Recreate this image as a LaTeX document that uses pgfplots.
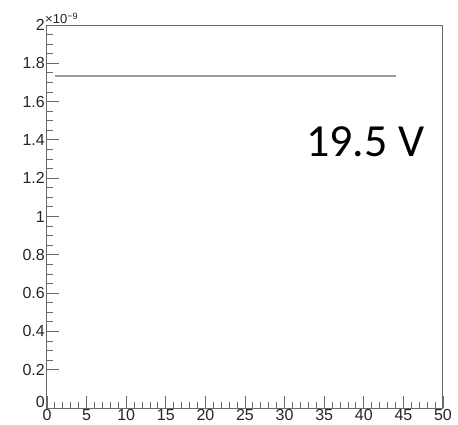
\documentclass[border=0pt]{standalone}
\usepackage{pgfplots}
\pgfplotsset{compat=1.18}
\usepackage{fontspec}
\setmainfont{Liberation Sans}
\newfontfamily\calfont{Carlito}
\definecolor{axgray}{RGB}{105,105,105}
\definecolor{linegray}{RGB}{155,155,155}
\begin{document}
\begin{tikzpicture}
\path[use as bounding box] (-47pt,-16pt) rectangle (411pt,408pt);
\begin{axis}[
  at={(0,0)}, anchor=south west,
  scale only axis, width=396pt, height=383pt,
  xmin=0, xmax=50, ymin=0, ymax=2e-9,
  xtick={0,5,...,50}, ytick={0.2e-9,0.4e-9,...,2.01e-9},
  extra y ticks={0},
  extra y tick style={yticklabel style={yshift=6pt}},
  minor x tick num=4, minor y tick num=3,
  tick align=inside, tick pos=left,
  major tick length=12pt, minor tick length=6pt,
  axis line style={axgray, line width=1pt},
  every tick/.style={axgray, line width=0.9pt},
  scaled y ticks=base 10:9,
  ytick scale label code/.code={×10\textsuperscript{−9}},
  every y tick scale label/.style={at={(rel axis cs:0,1)}, anchor=south west, inner sep=0pt, xshift=-2pt, yshift=1pt, font=\fontsize{13}{13}\selectfont, text=black!85},
  ticklabel style={font=\fontsize{16}{16}\selectfont, text=black!85},
  yticklabel style={inner sep=2pt},
  xticklabel style={inner sep=1pt},
  /pgf/number format/assume math mode=true,
  yticklabel={\pgfmathprintnumber[fixed,precision=1]{\tick}},
  clip=false,
]
\addplot[linegray, line width=1.6pt, mark=none] coordinates {(1,1.735e-9) (44.1,1.735e-9)};
\node[anchor=center, font=\calfont\fontsize{46}{46}\selectfont] at (axis cs:40.2,1.39e-9) {19.5 V};
\end{axis}
\end{tikzpicture}
\end{document}
